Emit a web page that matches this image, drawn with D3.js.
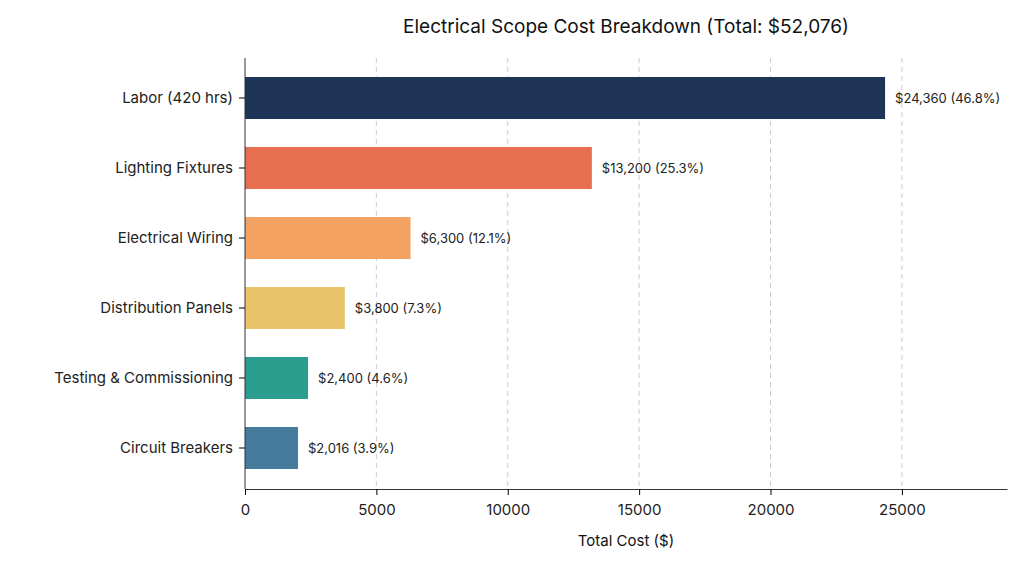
<!DOCTYPE html>
<html><head><meta charset="utf-8">
<script src="https://cdn.jsdelivr.net/npm/d3@7"></script>
<style>body{margin:0;background:#fff}text{font-family:Inter,"Open Sans",sans-serif}</style>
</head><body><svg id="c" width="1024" height="569"></svg>
<script>
var categories = ["Labor (420 hrs)","Lighting Fixtures","Electrical Wiring","Distribution Panels","Testing & Commissioning","Circuit Breakers"];
var costs = [24360,13200,6300,3800,2400,2016];
var percents = ["46.8%","25.3%","12.1%","7.3%","4.6%","3.9%"];
var colors = ["#1f3557","#e76f51","#f4a261","#e9c46a","#2a9d8f","#457b9d"];
var tickValues = [0,5000,10000,15000,20000,25000];

var svg = d3.select("#c");
var mLeft = 245, mRight = 1007, mTop = 58, mBottom = 489;
var x = d3.scaleLinear().domain([0,29000]).range([mLeft,mRight]);
var y = d3.scaleBand().domain(categories).range([mTop+5,mBottom-6]).paddingInner(0.4).paddingOuter(0.2);

svg.append("g").selectAll("line").data(tickValues.slice(1)).enter().append("line")
  .attr("x1",d=>x(d)).attr("x2",d=>x(d)).attr("y1",mTop).attr("y2",mBottom)
  .attr("stroke","#ccc").attr("stroke-dasharray","5,4");

svg.selectAll("rect").data(costs).enter().append("rect")
  .attr("x",mLeft).attr("y",(d,i)=>y(categories[i])).attr("width",d=>x(d)-mLeft)
  .attr("height",y.bandwidth()).attr("fill",(d,i)=>colors[i]);

svg.selectAll(".val").data(costs).enter().append("text")
  .attr("x",d=>x(d)+10).attr("y",(d,i)=>y(categories[i])+y.bandwidth()/2).attr("dy","0.35em")
  .attr("font-size",13).attr("fill","#222")
  .text((d,i)=>"$"+d3.format(",")(d)+" ("+percents[i]+")");

var xa = svg.append("g").attr("transform","translate(0,"+mBottom+")")
  .call(d3.axisBottom(x).tickValues(tickValues).tickFormat(d3.format("d")).tickSizeOuter(0));
xa.selectAll("text").attr("font-size",15).attr("fill","#222").attr("dy","1.1em");
xa.select(".domain").attr("stroke","#333");
var ya = svg.append("g").attr("transform","translate("+mLeft+",0)")
  .call(d3.axisLeft(y).tickSizeOuter(0));
ya.selectAll("text").attr("font-size",15).attr("fill","#222").attr("dx","-0.2em");
ya.select(".domain").attr("stroke","#333").attr("d","M0,"+mTop+"V"+mBottom);

svg.append("text").attr("x",626).attr("y",33).attr("text-anchor","middle").attr("font-size",19).attr("fill","#111")
  .text("Electrical Scope Cost Breakdown (Total: $52,076)");
svg.append("text").attr("x",626).attr("y",546).attr("text-anchor","middle").attr("font-size",15).attr("fill","#111")
  .text("Total Cost ($)");
</script></body></html>
